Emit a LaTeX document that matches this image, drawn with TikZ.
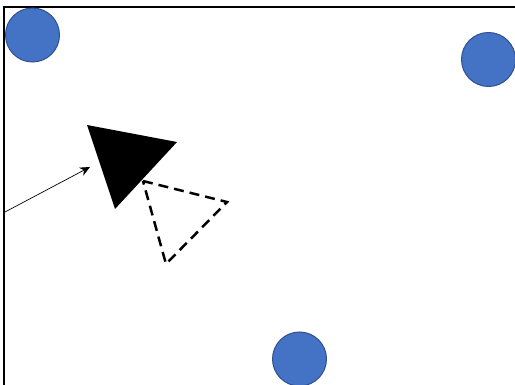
\documentclass[tikz,border=0pt]{standalone}
\usetikzlibrary{arrows.meta}
\definecolor{dotfill}{HTML}{4472C4}
\definecolor{dotline}{HTML}{2F528F}

\begin{document}
\begin{tikzpicture}[x=1pt,y=-1pt,>=Stealth,
    dot/.style={circle,fill=dotfill,draw=dotline,line width=1pt,minimum size=54pt,inner sep=0pt}]
  \useasboundingbox (0,0) rectangle (515,385);
  % frame
  \draw[line width=1.6pt] (4,386) -- (4,7) -- (516,7);
  % blue markers
  \foreach \name/\px/\py in {dotA/32.5/35, dotB/488.5/59.5, dotC/299.5/359}{
    \node[dot] (\name) at (\px,\py) {};
  }
  % solid triangle and its dashed copy
  \coordinate (s1) at (87,125);
  \coordinate (s2) at (177,142);
  \coordinate (s3) at (115,209);
  \fill[black] (s1) -- (s2) -- (s3) -- cycle;
  \coordinate (d1) at (143,181);
  \coordinate (d2) at (227,202);
  \coordinate (d3) at (166,264);
  \draw[line width=2.5pt,dash pattern=on 10pt off 6pt] (d1) -- (d2) -- (d3) -- cycle;
  % pointer
  \coordinate (tail) at (5,212);
  \coordinate (head) at (90,167);
  \draw[->,line width=0.7pt,>={Stealth[length=10pt,width=9pt]}] (tail) -- (head);
\end{tikzpicture}
\end{document}
